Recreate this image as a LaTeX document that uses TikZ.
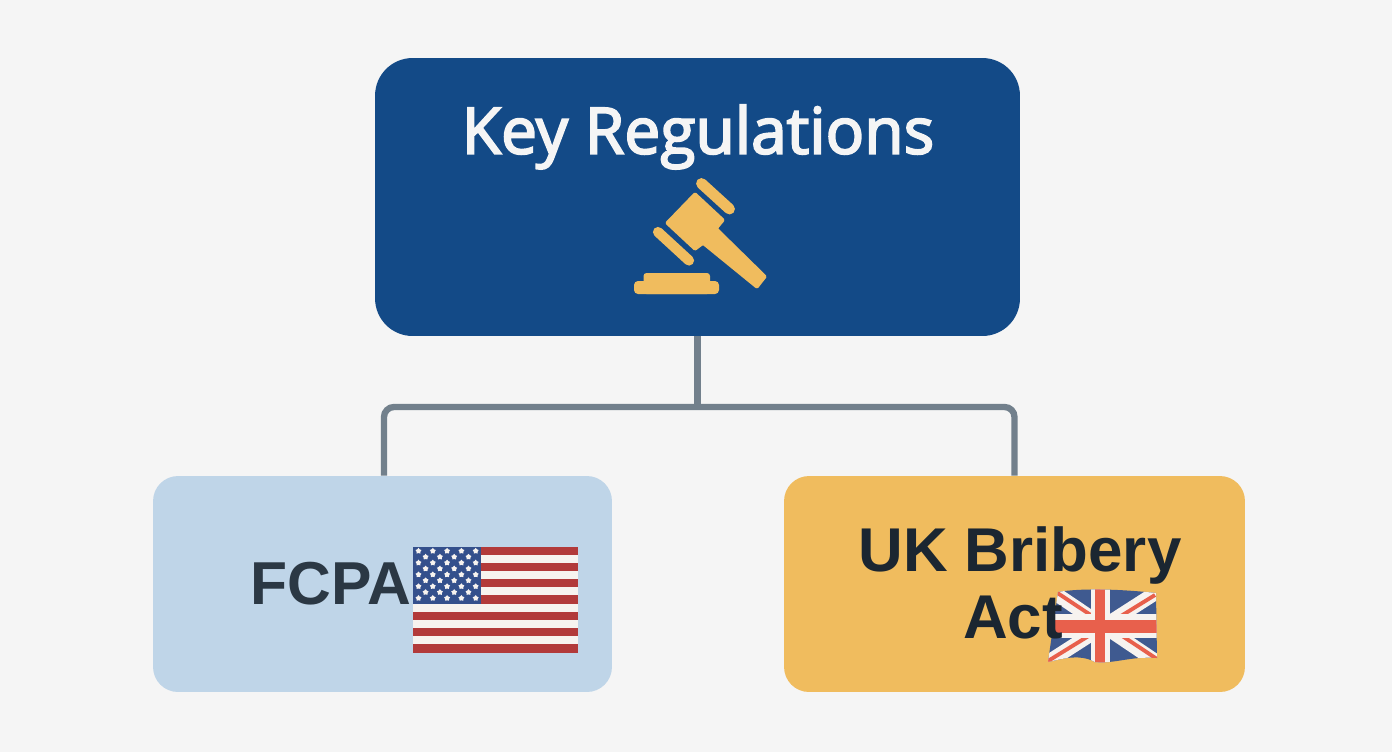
\documentclass[tikz,border=0pt]{standalone}
\usepackage{fontspec}
\setmainfont{Liberation Sans}
\newfontfamily\titlefont[FakeBold=3]{Open Sans}
\usetikzlibrary{shapes,positioning}

\definecolor{paper}{HTML}{F5F5F5}
\definecolor{navy}{HTML}{134A87}
\definecolor{gold}{HTML}{F0BC5E}
\definecolor{pale}{HTML}{BFD5E8}
\definecolor{wire}{HTML}{72808C}
\definecolor{ink}{HTML}{1B2631}
\definecolor{slate}{HTML}{2B3844}
\definecolor{flagred}{HTML}{B23A3A}
\definecolor{flagwhite}{HTML}{F7F3EF}
\definecolor{flagblue}{HTML}{34508C}
\definecolor{ukblue}{HTML}{3F5A90}
\definecolor{ukred}{HTML}{E8604C}

\begin{document}
\begin{tikzpicture}[x=0.02cm, y=-0.02cm]
	\tikzstyle{Box}		= [rectangle, inner sep=0pt, rounded corners=0.5cm]
	\tikzstyle{Title}	= [text=paper, font=\titlefont\fontsize{36.5}{40}\selectfont, inner sep=0pt]
	\tikzstyle{Label}	= [font=\bfseries\fontsize{35.2}{38.5}\selectfont, inner sep=0pt, align=center]
	\tikzstyle{Link}	= [wire, line width=3.6pt, rounded corners=0.2cm]
	\tikzstyle{Tool}	= [gold, line cap=round, line join=round]
	\tikzstyle{FlagStar}	= [star, star points=5, fill=flagwhite, inner sep=0pt, minimum size=0.125cm]

	\fill[paper] (0,0) rectangle (1392,752);

	\coordinate (junction) at (697.5, 407);
	\node (regs) at (697.5, 197) [Box, fill=navy, minimum width=12.9cm, minimum height=5.56cm, rounded corners=0.75cm] {};
	\node (fcpa) at (382.5, 584) [Box, fill=pale, minimum width=9.18cm, minimum height=4.32cm] {};
	\node (ukact) at (1014.5, 584) [Box, fill=gold, minimum width=9.22cm, minimum height=4.32cm] {};

	\draw[Link] (regs.south) -- (junction);
	\draw[Link] ([xshift=0.03cm]fcpa.north) |- (junction) -| (ukact.north);

	% gavel
	\draw[Tool, line width=6.2pt] (701.5, 183.5) -- (729.5, 209);
	\draw[Tool, line width=5.8pt] (658, 232) -- (689, 260.5);
	\fill[Tool, draw, line width=1pt, rounded corners=0.02cm] (695, 193) -- (724, 220) -- (717, 228.5) -- (766, 276.5) -- (757, 288) -- (703, 244) -- (695, 250) -- (666, 223) -- cycle;
	\fill[gold, rounded corners=0.06cm] (643.5, 294) -- (643.5, 273) -- (710, 273) -- (710, 294) -- cycle;
	\fill[gold, rounded corners=0.08cm] (634, 294) -- (634, 281) -- (719, 281) -- (719, 294) -- cycle;

	% US flag
	\fill[flagwhite] (413, 546.5) rectangle (578, 652.5);
	\foreach \i in {0,2,...,12}
		\fill[flagred] (413, 546.5+8.154*\i) rectangle (578, 546.5+8.154*\i+8.154);
	\fill[flagblue] (413, 546.5) rectangle (481, 603.6);
	\foreach \r in {0,2,...,8}
		\foreach \c in {0,...,4}
			\node (sa\r\c) at (418.5+14.3*\c, 551+5.9*\r) [FlagStar] {};
	\foreach \r in {1,3,...,7}
		\foreach \c in {0,...,3}
			\node (sb\r\c) at (425.6+14.3*\c, 551+5.9*\r) [FlagStar] {};

	% UK flag
	\begin{scope}
		\clip (1058, 592) .. controls (1080, 588) and (1120, 589) .. (1156, 593) -- (1157, 658) .. controls (1130, 656) and (1115, 664) .. (1095, 662) .. controls (1080, 654) and (1065, 658) .. (1048, 662) -- cycle;
		\fill[ukblue] (1040, 585) rectangle (1165, 670);
		\draw[flagwhite, line width=8pt] (1050, 590) -- (1157, 662);
		\draw[flagwhite, line width=8pt] (1157, 592) -- (1048, 662);
		\draw[ukred, line width=2.2pt] (1056, 592) -- (1157, 659);
		\draw[ukred, line width=2.2pt] (1155, 595) -- (1048, 661);
		\fill[flagwhite] (1091, 585) rectangle (1110, 670);
		\fill[flagwhite] (1040, 614) rectangle (1165, 638);
		\fill[ukred] (1095, 585) rectangle (1105, 670);
		\fill[ukred] (1040, 620) rectangle (1165, 633);
	\end{scope}

	\node (regstext) at (698, 137) [Title] {Key Regulations};
	\node (fcpatext) at (331, 584) [Label, text=slate, font=\bfseries\fontsize{34.5}{38.5}\selectfont] {FCPA};
	\node (uktext) at (1020, 583) [Label, text=ink] {UK Bribery\\Act\hspace*{0.28cm}};
\end{tikzpicture}
\end{document}
